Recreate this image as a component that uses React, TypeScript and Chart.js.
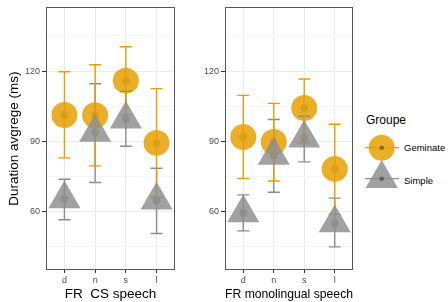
import React, { useEffect, useRef } from "react";
import { Chart, registerables } from "chart.js";

Chart.register(...registerables);

const categories = ["d", "n", "s", "l"];
const yTicks = [45, 60, 75, 90, 105, 120, 135];
const yMajor = [60, 90, 120];
const groups = ["Geminate", "Simple"];

// FR CS speech
const csGemMean = [101.2, 101.1, 115.9, 89.3];
const csGemLow = [82.9, 79.5, 101.4, 66.1];
const csGemHigh = [119.7, 122.7, 130.4, 112.5];
const csSimMean = [65.3, 93.7, 99.4, 64.8];
const csSimLow = [56.5, 72.4, 87.9, 50.6];
const csSimHigh = [73.8, 114.6, 111.3, 78.5];

// FR monolingual speech
const monoGemMean = [91.8, 89.7, 104.2, 78.2];
const monoGemLow = [74.1, 73.0, 89.4, 58.8];
const monoGemHigh = [109.6, 106.2, 116.6, 97.3];
const monoSimMean = [59.4, 83.9, 91.3, 55.1];
const monoSimLow = [51.7, 68.2, 81.2, 44.9];
const monoSimHigh = [67.1, 99.3, 100.7, 65.7];

const FONT = "'Liberation Sans', Arial, sans-serif";
const ORANGE_FILL = "rgba(230,159,0,0.84)";
const ORANGE_LINE = "#E69F00";
const GREY_FILL = "rgba(140,140,140,0.82)";
const GREY_LINE = "#8C8C8C";
const DOT = "rgba(0,0,0,0.38)";

type Panel = {
  gemMean: number[]; gemLow: number[]; gemHigh: number[];
  simMean: number[]; simLow: number[]; simHigh: number[];
  xTitle: string; yTitle: string | null; yAxisWidth: number; padRight: number;
};

function makePlugin(p: Panel) {
  const drawBars = (chart: any, low: number[], high: number[], color: string) => {
    const ctx = chart.ctx;
    const xs = chart.scales.x;
    const ys = chart.scales.y;
    ctx.save();
    ctx.strokeStyle = color;
    ctx.lineWidth = 1.4;
    low.forEach((lo, i) => {
      const x = xs.getPixelForValue(i + 1);
      const y1 = ys.getPixelForValue(lo);
      const y2 = ys.getPixelForValue(high[i]);
      ctx.beginPath();
      ctx.moveTo(x, y1); ctx.lineTo(x, y2);
      ctx.moveTo(x - 6, y1); ctx.lineTo(x + 6, y1);
      ctx.moveTo(x - 6, y2); ctx.lineTo(x + 6, y2);
      ctx.stroke();
    });
    ctx.restore();
  };
  return {
    id: "errbars",
    afterDatasetDraw(chart: any, args: any) {
      if (args.index === 1) {
        drawBars(chart, p.simLow, p.simHigh, GREY_LINE);
        drawBars(chart, p.gemLow, p.gemHigh, ORANGE_LINE);
      }
    },
    afterDraw(chart: any) {
      const { left, right, top, bottom } = chart.chartArea;
      const ctx = chart.ctx;
      ctx.save();
      ctx.strokeStyle = "#555";
      ctx.lineWidth = 1;
      ctx.strokeRect(Math.round(left) + 0.5, Math.round(top) + 0.5, Math.round(right - left) - 1, Math.round(bottom - top) - 1);
      ctx.restore();
    },
  };
}

function buildChart(canvas: HTMLCanvasElement, p: Panel) {
  const pts = (arr: number[]) => arr.map((y, i) => ({ x: i + 1, y }));
  return new Chart(canvas, {
    type: "scatter",
    data: {
      datasets: [
        { label: groups[1], data: pts(p.simMean), pointStyle: "triangle", pointRadius: 18.5, pointHoverRadius: 18.5, backgroundColor: GREY_FILL, borderWidth: 0 },
        { label: groups[0], data: pts(p.gemMean), pointStyle: "circle", pointRadius: 13, pointHoverRadius: 13, backgroundColor: ORANGE_FILL, borderWidth: 0 },
        { label: groups[1] + " mean", data: pts(p.simMean), pointStyle: "circle", pointRadius: 4, pointHoverRadius: 4, backgroundColor: DOT, borderWidth: 0 },
        { label: groups[0] + " mean", data: pts(p.gemMean), pointStyle: "circle", pointRadius: 4, pointHoverRadius: 4, backgroundColor: DOT, borderWidth: 0 },
      ],
    },
    options: {
      animation: false,
      responsive: false,
      events: [],
      layout: { autoPadding: false, padding: { top: 7, right: p.padRight, left: 0, bottom: 0 } },
      plugins: { legend: { display: false }, tooltip: { enabled: false } },
      scales: {
        x: {
          type: "linear",
          min: 0.4,
          max: 4.6,
          afterBuildTicks: (s: any) => { s.ticks = categories.map((_, i) => ({ value: i + 1 })); },
          afterFit: (s: any) => { s.height = 32; },
          ticks: {
            callback: (v: any) => categories[Math.round(Number(v)) - 1] ?? "",
            font: { family: FONT, size: 9 },
            color: "#4D4D4D",
            padding: 2,
            autoSkip: false,
            maxRotation: 0,
          },
          grid: { color: "#EBEBEB", lineWidth: 1, tickLength: 3, tickColor: "#333", drawTicks: true },
          border: { display: false },
          title: { display: true, text: p.xTitle, font: { family: FONT, size: 13.5 }, color: "#000", padding: { top: 0, bottom: 0 } },
        },
        y: {
          type: "linear",
          min: 35,
          max: 147.2,
          afterBuildTicks: (s: any) => { s.ticks = yTicks.map((v) => ({ value: v })); },
          afterFit: (s: any) => { s.width = p.yAxisWidth; },
          ticks: {
            callback: (v: any) => (yMajor.includes(Number(v)) ? String(v) : ""),
            font: { family: FONT, size: 9 },
            color: "#4D4D4D",
            padding: 2,
            autoSkip: false,
          },
          grid: {
            color: (c: any) => (c.tick && yMajor.includes(c.tick.value) ? "#EBEBEB" : "#F4F4F4"),
            lineWidth: 1,
            tickLength: 4,
            tickColor: (c: any) => (c.tick && yMajor.includes(c.tick.value) ? "#333" : "rgba(0,0,0,0)"),
            drawTicks: true,
          },
          border: { display: false },
          title: p.yTitle
            ? { display: true, text: p.yTitle, font: { family: FONT, size: 13.5 }, color: "#000", padding: { top: 6, bottom: 0 } }
            : { display: false },
        },
      },
    } as any,
    plugins: [makePlugin(p)],
  });
}

export default function App() {
  const leftRef = useRef<HTMLCanvasElement>(null);
  const rightRef = useRef<HTMLCanvasElement>(null);

  useEffect(() => {
    const c1 = buildChart(leftRef.current!, {
      gemMean: csGemMean, gemLow: csGemLow, gemHigh: csGemHigh,
      simMean: csSimMean, simLow: csSimLow, simHigh: csSimHigh,
      xTitle: "FR  CS speech", yTitle: "Duration avgrege (ms)", yAxisWidth: 46, padRight: 5,
    });
    const c2 = buildChart(rightRef.current!, {
      gemMean: monoGemMean, gemLow: monoGemLow, gemHigh: monoGemHigh,
      simMean: monoSimMean, simLow: monoSimLow, simHigh: monoSimHigh,
      xTitle: "FR monolingual speech", yTitle: null, yAxisWidth: 45, padRight: 7,
    });
    return () => { c1.destroy(); c2.destroy(); };
  }, []);

  return (
    <div style={{ position: "absolute", left: 0, top: 0, width: 448, height: 302, background: "#fff", fontFamily: FONT, overflow: "hidden" }}>
      <canvas ref={leftRef} width={180} height={302} style={{ position: "absolute", left: 0, top: 0, width: 180, height: 302 }} />
      <canvas ref={rightRef} width={180} height={302} style={{ position: "absolute", left: 180, top: 0, width: 180, height: 302 }} />
      <div style={{ position: "absolute", left: 366, top: 112, fontSize: 12, lineHeight: "16px", color: "#000", whiteSpace: "nowrap" }}>Groupe</div>
      <svg style={{ position: "absolute", left: 360, top: 130 }} width={44} height={64}>
        <circle cx={21.7} cy={17.7} r={13} fill={ORANGE_FILL} />
        <line x1={5} x2={39} y1={17.7} y2={17.7} stroke={ORANGE_LINE} strokeWidth={1.3} />
        <circle cx={21.7} cy={17.7} r={2.3} fill={DOT} />
        <polygon points={`21.7,30 37.9,58.1 5.5,58.1`} fill={GREY_FILL} />
        <line x1={5} x2={39} y1={48.7} y2={48.7} stroke={GREY_LINE} strokeWidth={1.3} />
        <circle cx={21.7} cy={48.7} r={2.3} fill={DOT} />
      </svg>
      <div style={{ position: "absolute", left: 404, top: 142, fontSize: 9.5, lineHeight: "12px", color: "#000", whiteSpace: "nowrap" }}>Geminate</div>
      <div style={{ position: "absolute", left: 404, top: 175, fontSize: 9.5, lineHeight: "12px", color: "#000", whiteSpace: "nowrap" }}>Simple</div>
    </div>
  );
}
